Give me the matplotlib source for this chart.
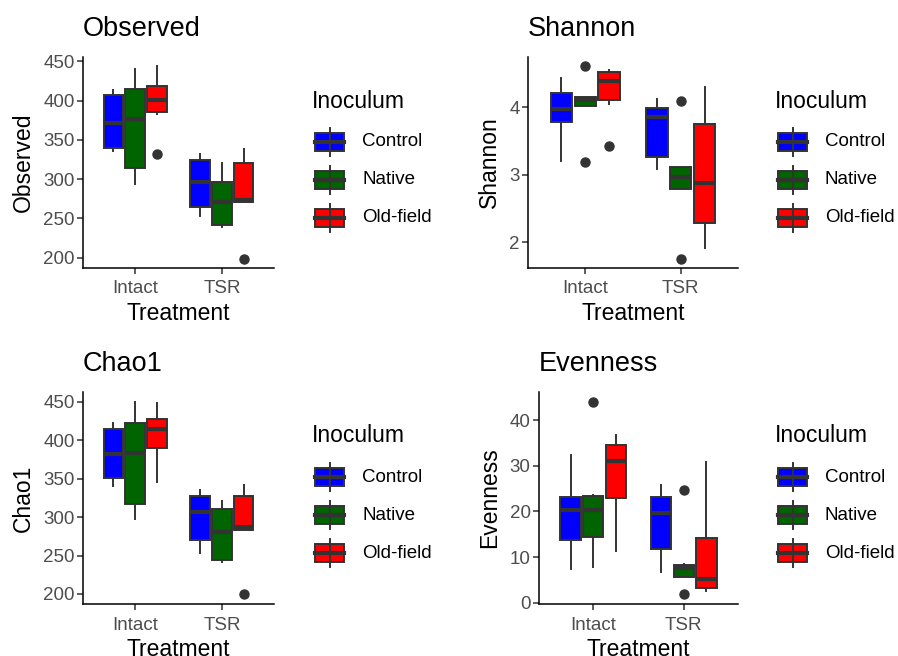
import matplotlib
matplotlib.use("Agg")
import matplotlib.pyplot as plt
from matplotlib.patches import Rectangle
from matplotlib.lines import Line2D

plt.rcParams['font.family'] = ['Liberation Sans', 'DejaVu Sans']

treatments = ["Intact", "TSR"]
inocula = ["Control", "Native", "Old-field"]
colors = ["#0000FF", "#006400", "#FF0000"]

# order: Intact-Control, Intact-Native, Intact-Old-field, TSR-Control, TSR-Native, TSR-Old-field
observed_med = [371, 377, 401, 296, 271, 273.5]
observed_q1 = [340, 314, 385, 264, 241.5, 271]
observed_q3 = [407, 415, 419, 324, 296, 320]
observed_lo = [336, 294, 383, 253, 239, 271]
observed_hi = [414, 440, 444, 332, 321, 339]
observed_fl = [[], [], [332.6], [], [], [198.7]]

shannon_med = [3.975, 4.10, 4.39, 3.85, 2.96, 2.87]
shannon_q1 = [3.775, 4.01, 4.11, 3.26, 2.785, 2.29]
shannon_q3 = [4.215, 4.15, 4.515, 3.98, 3.12, 3.755]
shannon_lo = [3.20, 4.01, 4.05, 3.08, 2.785, 1.92]
shannon_hi = [4.43, 4.15, 4.545, 4.12, 3.12, 4.29]
shannon_fl = [[], [4.61, 3.18], [3.42], [], [4.09, 1.76], []]

chao1_med = [382, 383, 414, 306.5, 280.5, 287]
chao1_q1 = [350.5, 317, 390, 270, 244, 283]
chao1_q3 = [414, 422, 427, 327, 310, 327]
chao1_lo = [340, 298, 345, 253, 241, 283]
chao1_hi = [422, 450, 448, 334.5, 321, 342]
chao1_fl = [[], [], [], [], [], [199.6]]

even_med = [20.4, 20.4, 31.1, 19.6, 7.5, 5.2]
even_q1 = [13.8, 14.4, 22.9, 11.7, 5.7, 3.1]
even_q3 = [23.1, 23.3, 34.5, 23.1, 8.15, 14.25]
even_lo = [7.3, 7.9, 11.3, 6.7, 5.7, 2.5]
even_hi = [32.4, 23.6, 36.8, 25.8, 8.4, 30.8]
even_fl = [[], [44.1], [], [], [24.6, 1.8], []]

W, H = 898, 656
fig = plt.figure(figsize=(W / 100, H / 100), dpi=100)

EDGE = "#333333"
LW = 1.4


def add_axes_px(left, top, right, bottom):
    return fig.add_axes([left / W, 1 - bottom / H, (right - left) / W, (bottom - top) / H])


def draw_panel(box, title, ylabel, med, q1, q3, lo, hi, fl, ylim, yticks):
    ax = add_axes_px(*box)
    offsets = [-0.25, 0.0, 0.25]
    for ti in range(2):
        for ii in range(3):
            k = ti * 3 + ii
            stats = [dict(med=med[k], q1=q1[k], q3=q3[k], whislo=lo[k], whishi=hi[k], fliers=fl[k])]
            ax.bxp(stats, positions=[ti + 1 + offsets[ii]], widths=0.225, patch_artist=True,
                   showcaps=False,
                   boxprops=dict(facecolor=colors[ii], edgecolor=EDGE, linewidth=LW),
                   whiskerprops=dict(color=EDGE, linewidth=LW),
                   medianprops=dict(color=EDGE, linewidth=3.0, solid_capstyle='butt'),
                   flierprops=dict(marker='o', markerfacecolor=EDGE, markeredgecolor=EDGE,
                                   markersize=6.5, linestyle='none'),
                   manage_ticks=False)
    ax.set_xlim(0.4, 2.6)
    ax.set_ylim(*ylim)
    ax.set_xticks([1, 2])
    ax.set_xticklabels(treatments)
    ax.set_yticks(yticks)
    ax.set_yticklabels([str(t) for t in yticks])
    for s in ["top", "right"]:
        ax.spines[s].set_visible(False)
    for s in ["left", "bottom"]:
        ax.spines[s].set_linewidth(1.1)
        ax.spines[s].set_color("black")
    ax.tick_params(axis='x', length=4, width=1.1, color=EDGE, labelcolor="#4D4D4D",
                   labelsize=13.5, pad=5)
    ax.tick_params(axis='y', length=4, width=1.1, color=EDGE, labelcolor="#4D4D4D",
                   labelsize=13.5, pad=2)
    ax.set_xlabel("Treatment", fontsize=16.5, color="black", labelpad=3)
    ax.set_ylabel(ylabel, fontsize=16.5, color="black", labelpad=6)
    ax.set_title(title, fontsize=19.5, loc='left', pad=15, color="black")
    ax.set_facecolor("none")
    return ax


draw_panel((83, 57, 274, 268), "Observed", "Observed", observed_med, observed_q1, observed_q3,
           observed_lo, observed_hi, observed_fl, (187, 455.5), [200, 250, 300, 350, 400, 450])
draw_panel((528, 57, 738, 268), "Shannon", "Shannon", shannon_med, shannon_q1, shannon_q3,
           shannon_lo, shannon_hi, shannon_fl, (1.62, 4.74), [2, 3, 4])
draw_panel((83, 392, 274, 604), "Chao1", "Chao1", chao1_med, chao1_q1, chao1_q3,
           chao1_lo, chao1_hi, chao1_fl, (187, 462.5), [200, 250, 300, 350, 400, 450])
draw_panel((539, 392, 738, 604), "Evenness", "Evenness", even_med, even_q1, even_q3,
           even_lo, even_hi, even_fl, (-0.3, 46.2), [0, 10, 20, 30, 40])

# legends drawn in a full-figure overlay with pixel coordinates
ov = fig.add_axes([0, 0, 1, 1])
ov.set_xlim(0, W)
ov.set_ylim(H, 0)
ov.axis("off")


def draw_legend(x0, y_title):
    ov.text(x0, y_title, "Inoculum", fontsize=16.5, va='center', ha='left', color="black")
    for i, (name, c) in enumerate(zip(inocula, colors)):
        yc = y_title + 41 + i * 38
        kx0, kx1 = x0 + 3, x0 + 32
        xm = (kx0 + kx1) / 2
        ov.add_line(Line2D([xm, xm], [yc - 14, yc + 14], color=EDGE, linewidth=LW))
        ov.add_patch(Rectangle((kx0, yc - 9), kx1 - kx0, 18, facecolor=c, edgecolor=EDGE, linewidth=LW))
        ov.add_line(Line2D([kx0, kx1], [yc, yc], color=EDGE, linewidth=3.0))
        ov.text(x0 + 50, yc, name, fontsize=13.5, va='center', ha='left', color="black")


draw_legend(312, 101)
draw_legend(775, 101)
draw_legend(312, 436)
draw_legend(775, 436)

fig.savefig("out.png", dpi=100)
